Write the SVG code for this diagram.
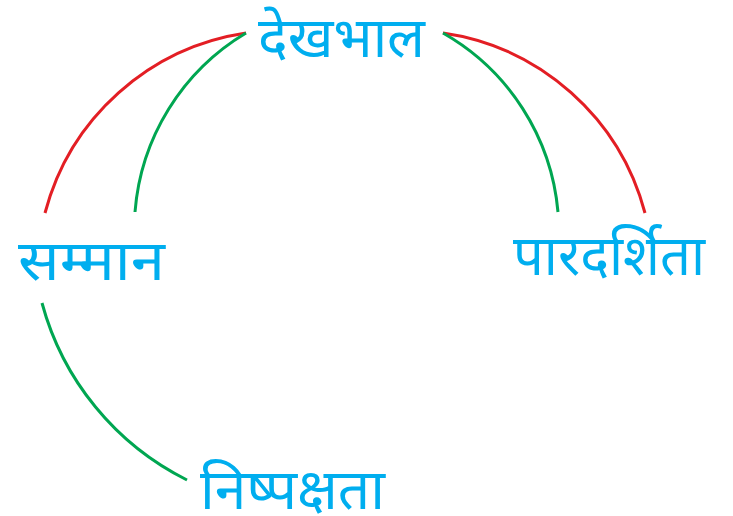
<svg xmlns="http://www.w3.org/2000/svg" width="733" height="516" viewBox="0 0 733 516">
<style>
.lbl{font-family:"Noto Sans","Noto Sans Devanagari","Lohit Devanagari",sans-serif;font-size:56px;fill:#00aeef}
.red{fill:none;stroke:#e31e24;stroke-width:3}
.grn{fill:none;stroke:#00a651;stroke-width:3}
</style>
<rect width="733" height="516" fill="#ffffff"/>
<g id="connectors">
<path class="red" d="M45,213 A245,245 0 0 1 246,33"/>
<path class="grn" d="M135,212 A229,229 0 0 1 246,33"/>
<path class="red" d="M443,33 A245,245 0 0 1 645,213"/>
<path class="grn" d="M443,33 A229,229 0 0 1 558,212"/>
<path class="grn" d="M42,303 A279,279 0 0 0 187,480"/>
</g>
<g id="dekhbhal"><text class="lbl" x="258" y="57" textLength="167" lengthAdjust="spacingAndGlyphs">देखभाल</text></g>
<g id="samman"><text class="lbl" x="18" y="280" textLength="147" lengthAdjust="spacingAndGlyphs">सम्मान</text></g>
<g id="pardarshita"><text class="lbl" x="513" y="275" textLength="192" lengthAdjust="spacingAndGlyphs">पारदर्शिता</text></g>
<g id="nishpakshata"><text class="lbl" x="200" y="509" textLength="185" lengthAdjust="spacingAndGlyphs">निष्पक्षता</text></g>
</svg>
